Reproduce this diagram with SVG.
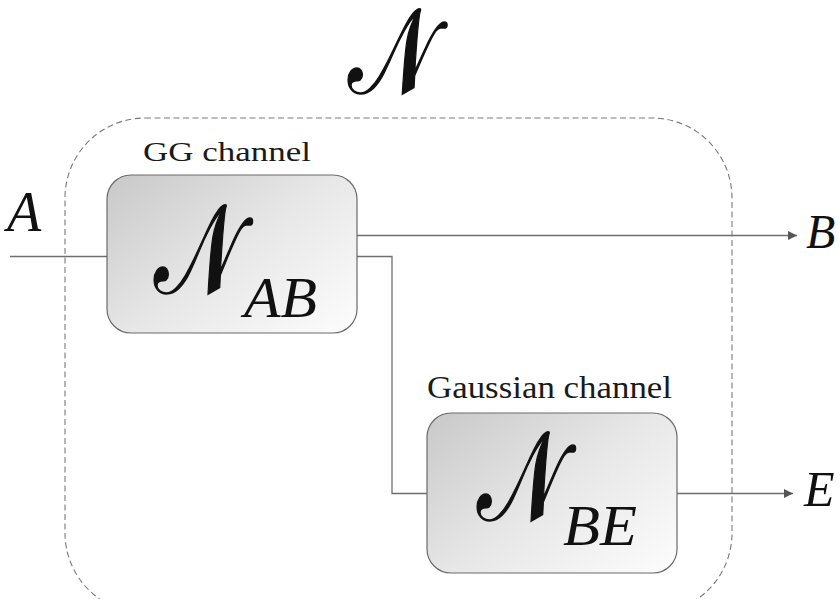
<svg xmlns="http://www.w3.org/2000/svg" width="840" height="599" viewBox="0 0 840 599">
  <style>
    .wire { fill: none; stroke: #6e6e6e; stroke-width: 1.3; }
    .box { fill: url(#boxFill); stroke: #6a6a6a; stroke-width: 1.2; }
    .frame { fill: none; stroke: #7a7a7a; stroke-width: 1.1; stroke-dasharray: 6 3.5; }
    .cap { font-family: "Liberation Serif", "DejaVu Serif", serif; fill: #1a1a1a; }
    .it { font-family: "Liberation Serif", "DejaVu Serif", serif; font-style: italic; fill: #111; }
    .script { font-family: "Liberation Serif", "DejaVu Serif", serif; fill: #111; stroke: #111; stroke-width: 1.6; }
  </style>
  <defs>
    <linearGradient id="boxFill" x1="0" y1="0.1" x2="1" y2="0.9">
      <stop offset="0" stop-color="#cbcbcb"/>
      <stop offset="0.5" stop-color="#e7e7e7"/>
      <stop offset="1" stop-color="#fbfbfb"/>
    </linearGradient>
    <marker id="arrow" viewBox="0 0 10 10" refX="10" refY="5" markerWidth="9" markerHeight="9" markerUnits="userSpaceOnUse" orient="auto">
      <path d="M0,0 L10,5 L0,10 z" fill="#555"/>
    </marker>
  </defs>

  <!-- overall channel boundary -->
  <g id="channel-N">
    <rect class="frame" x="65" y="118" width="667" height="495" rx="80" ry="80"/>
    <text class="script" transform="translate(392,93) scale(0.76,1)" font-size="120" text-anchor="middle">𝒩</text>
  </g>

  <!-- connectors -->
  <g id="connectors">
    <path class="wire" d="M10,256.5 H107"/>
    <path class="wire" d="M357,235.5 H797" marker-end="url(#arrow)"/>
    <path class="wire" d="M357,256.5 H392 V493.5 H427"/>
    <path class="wire" d="M677,493.5 H793" marker-end="url(#arrow)"/>
  </g>

  <!-- GG channel -->
  <g id="node-AB">
    <rect class="box" x="107" y="175" width="250" height="158" rx="24" ry="24"/>
    <text class="cap" x="143" y="161" font-size="28" textLength="168" lengthAdjust="spacingAndGlyphs">GG channel</text>
    <text class="script" transform="translate(197,293) scale(0.72,1)" font-size="126" text-anchor="middle">𝒩</text>
    <text class="it" x="244" y="317" font-size="56" textLength="73" lengthAdjust="spacingAndGlyphs">AB</text>
  </g>

  <!-- Gaussian channel -->
  <g id="node-BE">
    <rect class="box" x="427" y="413" width="250" height="160" rx="24" ry="24"/>
    <text class="cap" x="427" y="398" font-size="32" textLength="245" lengthAdjust="spacingAndGlyphs">Gaussian channel</text>
    <text class="script" transform="translate(520,520) scale(0.72,1)" font-size="126" text-anchor="middle">𝒩</text>
    <text class="it" x="563" y="545" font-size="56" textLength="74" lengthAdjust="spacingAndGlyphs">BE</text>
  </g>

  <!-- ports -->
  <g id="port-A"><text class="it" x="7" y="231" font-size="56">A</text></g>
  <g id="port-B"><text class="it" x="806" y="248" font-size="48">B</text></g>
  <g id="port-E"><text class="it" x="804" y="506" font-size="50">E</text></g>
</svg>
